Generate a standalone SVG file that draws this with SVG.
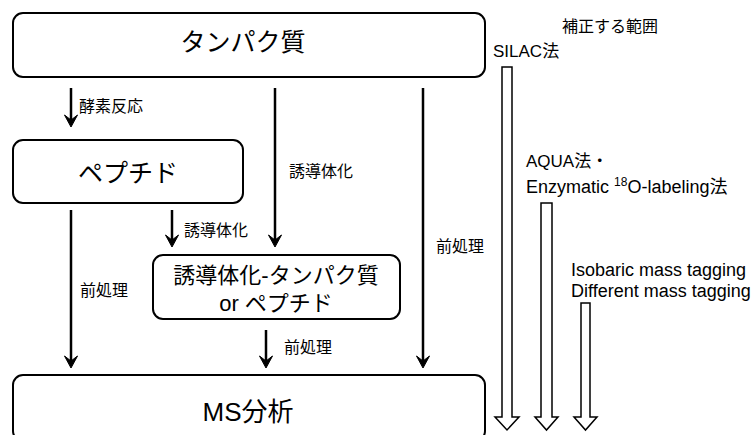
<svg xmlns="http://www.w3.org/2000/svg" width="755" height="435" viewBox="0 0 755 435">
<style>
.box{fill:#fff;stroke:#000;stroke-width:2}
.t{font-family:"Liberation Sans","Noto Sans CJK JP",sans-serif;fill:#000}
.big{font-size:25px;text-anchor:middle}
.ms{font-size:26px;text-anchor:middle}
.mid{font-size:22px;text-anchor:middle}
.lab{font-size:16px}
.rt{font-size:17px}
.hd{font-size:16px}
.ln{stroke:#000;stroke-width:2.5;fill:none}
.hol{fill:#fff;stroke:#000;stroke-width:1.5}
</style>
<defs>
<marker id="ah" markerWidth="14" markerHeight="14" refX="9" refY="7" orient="auto" markerUnits="userSpaceOnUse" viewBox="0 0 14 14"><path d="M1,0.5 L13,7 L1,13.5 L6,7 Z" fill="#000" stroke="#000" stroke-width="1" stroke-linejoin="miter"/></marker>
</defs>
<g id="connectors">
<line class="ln" x1="71" y1="88" x2="71" y2="123" marker-end="url(#ah)"/>
<line class="ln" x1="275" y1="88" x2="275" y2="243" marker-end="url(#ah)"/>
<line class="ln" x1="423" y1="88" x2="423" y2="364" marker-end="url(#ah)"/>
<line class="ln" x1="71" y1="210" x2="71" y2="364" marker-end="url(#ah)"/>
<line class="ln" x1="172" y1="210" x2="172" y2="243" marker-end="url(#ah)"/>
<line class="ln" x1="266" y1="330" x2="266" y2="364" marker-end="url(#ah)"/>
<text class="t lab" x="79" y="112">酵素反応</text>
<text class="t lab" x="289" y="177">誘導体化</text>
<text class="t lab" x="436" y="252">前処理</text>
<text class="t lab" x="80" y="296">前処理</text>
<text class="t lab" x="184" y="236">誘導体化</text>
<text class="t lab" x="284" y="353">前処理</text>
</g>
<g id="protein">
<rect class="box" x="13" y="13" width="472" height="64" rx="10"/>
<text class="t big" x="243" y="51">タンパク質</text>
</g>
<g id="peptide">
<rect class="box" x="13" y="140" width="230" height="63" rx="10"/>
<text class="t big" x="128" y="182">ペプチド</text>
</g>
<g id="derivative">
<rect class="box" x="153" y="255" width="247" height="64" rx="10"/>
<text class="t mid" x="276" y="283">誘導体化-タンパク質</text>
<text class="t mid" x="276" y="311">or ペプチド</text>
</g>
<g id="ms">
<rect class="box" x="13" y="375" width="472" height="66" rx="10"/>
<text class="t ms" x="248" y="421">MS分析</text>
</g>
<g id="range">
<text class="t hd" x="562" y="32">補正する範囲</text>
<text class="t rt" x="493" y="57">SILAC法</text>
<path class="hol" d="M502,67 H512 V417 H519 L507,430 L495,417 H502 Z"/>
<text class="t rt" x="526" y="167">AQUA法・</text>
<text class="t" font-size="18" x="526" y="193">Enzymatic <tspan font-size="12" dy="-7">18</tspan><tspan dy="7">O-labeling法</tspan></text>
<path class="hol" d="M541,203 H552 V417 H558 L546.5,430 L535,417 H541 Z"/>
<text class="t" font-size="18" x="571" y="276">Isobaric mass tagging</text>
<text class="t" font-size="18" x="571" y="297">Different mass tagging</text>
<path class="hol" d="M581,303 H590 V417 H597 L585.5,430 L574,417 H581 Z"/>
</g>
</svg>
